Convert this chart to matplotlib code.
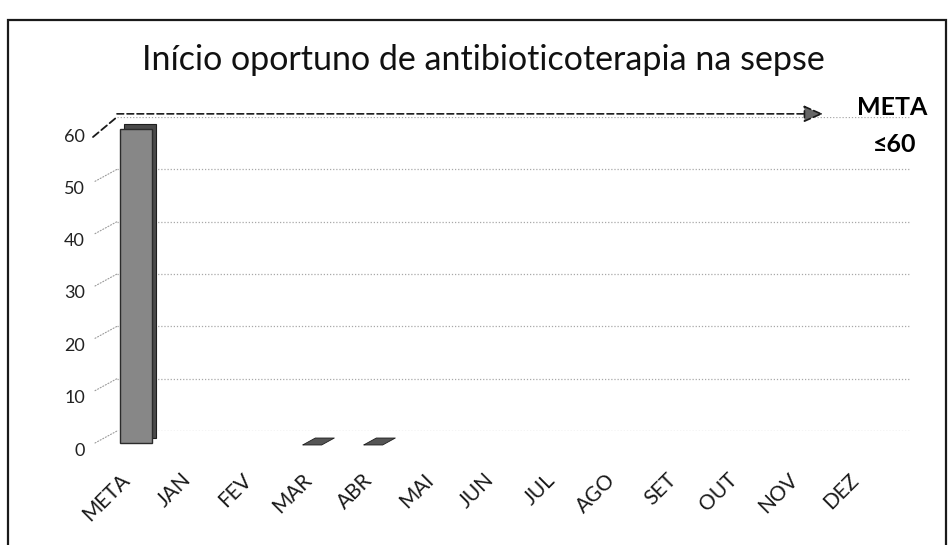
import numpy as np
import matplotlib
matplotlib.use("Agg")
import matplotlib.pyplot as plt
from matplotlib.transforms import ScaledTranslation, blended_transform_factory
from matplotlib.patches import Rectangle
from matplotlib.path import Path

plt.rcParams['font.family'] = ['Lato', 'DejaVu Sans']

# data
categorias = ['META', 'JAN', 'FEV', 'MAR', 'ABR', 'MAI', 'JUN',
              'JUL', 'AGO', 'SET', 'OUT', 'NOV', 'DEZ']
valores = [60, np.nan, np.nan, 0, 0, np.nan, np.nan,
           np.nan, np.nan, np.nan, np.nan, np.nan, np.nan]
y_ticks = [0, 10, 20, 30, 40, 50, 60]
meta = 60
titulo = 'Início oportuno de antibioticoterapia na sepse'

W, H = 948, 545
fig = plt.figure(figsize=(W / 100, H / 100), dpi=100)
fig.patch.set_facecolor('white')

# axes placed so the back wall runs 117..910 px and 0..60 -> 431..117 px
ax = fig.add_axes([117 / W, (H - 431) / H, (910 - 117) / W, 314 / H])
ax.set_xlim(-0.313, 12.75)
ax.set_ylim(0, 60)
for s in ax.spines.values():
    s.set_visible(False)

x = np.arange(len(categorias))
vals = np.array(valores, dtype=float)

# gridlines on the back wall
for v in y_ticks:
    ax.axhline(v, color='#a8a8a8', lw=0.9, ls=(0, (1, 1.5)), zorder=1)

# front plane is a bit lower than the back wall
front = ax.transData + ScaledTranslation(0, -0.12, fig.dpi_scale_trans)
depth = front + ScaledTranslation(0.04, 0.05, fig.dpi_scale_trans)

# META bar (a darker copy behind gives the 3D depth)
ax.bar(x[0], vals[0], width=0.53, color='#4a4a4a', edgecolor='#1e1e1e',
       lw=0.8, transform=depth, zorder=2, clip_on=False)
ax.bar(x[0], vals[0], width=0.53, color='#878787', edgecolor='#2b2b2b',
       lw=1.0, transform=front, zorder=3, clip_on=False)

# months with a 0 value show as a flat slab
slab = Path([(-0.5, -0.11), (0.1, -0.11), (0.5, 0.11), (-0.1, 0.11), (-0.5, -0.11)])
mask = (~np.isnan(vals)) & (x > 0)
ax.scatter(x[mask], vals[mask], marker=slab, s=520, color='#555555',
           edgecolor='#1e1e1e', lw=0.6, transform=front + ScaledTranslation(0, 0.02, fig.dpi_scale_trans),
           zorder=3, clip_on=False)

# y tick labels (front plane) and the slanted connectors to the wall
ax.set_yticks(y_ticks)
ax.tick_params(axis='y', length=0, pad=23, labelsize=13, labelcolor='#222222')
for lab in ax.get_yticklabels():
    lab.set_transform(lab.get_transform() + ScaledTranslation(0, -0.18, fig.dpi_scale_trans))
bl = blended_transform_factory(ax.transAxes, ax.transData)
for v in y_ticks[:-1]:
    ax.annotate('', xy=(0, v), xycoords=bl, xytext=(-22, -12), textcoords='offset pixels',
                arrowprops=dict(arrowstyle='-', color='#9a9a9a', lw=0.8, ls=':',
                                shrinkA=0, shrinkB=0), annotation_clip=False)

# x tick labels
ax.set_xticks(x)
ax.set_xticklabels(categorias, rotation=45, ha='right', va='center',
                   rotation_mode='anchor', fontsize=15, color='#1a1a1a')
ax.tick_params(axis='x', length=0, pad=33)
for lab in ax.get_xticklabels():
    lab.set_transform(lab.get_transform() + ScaledTranslation(-0.09, 0, fig.dpi_scale_trans))

# dashed target line with arrow
ax.annotate('', xy=(0, meta), xycoords=bl, xytext=(-24, -20), textcoords='offset pixels',
            arrowprops=dict(arrowstyle='-', color='#1a1a1a', lw=1.3, ls=(0, (4, 2)),
                            shrinkA=0, shrinkB=0), annotation_clip=False)
ax.annotate('', xy=(11.32, meta + 0.6), xytext=(-0.313, meta + 0.6),
            arrowprops=dict(arrowstyle='-|>,head_length=0.8,head_width=0.35', mutation_scale=15,
                            color='#1a1a1a', lw=1.2, ls=(0, (4, 2)), shrinkA=0, shrinkB=0,
                            fc='#666666'), annotation_clip=False)
ax.text(12.45, meta + 1.8, 'META', fontsize=18, fontweight='bold', ha='center', va='center')
ax.text(12.5, meta - 5.2, '≤60', fontsize=18, fontweight='bold', ha='center', va='center',
        family=['Lato', 'DejaVu Sans'])

fig.text(483 / W, 1 - 60 / H, titulo, fontsize=24.5, ha='center', va='center', color='#111111')

# chart frame
fig.add_artist(Rectangle((8 / W, -0.01), 938 / W, (H - 20) / H + 0.01, transform=fig.transFigure,
                         fill=False, ec='#1a1a1a', lw=1.6))

fig.savefig('out.png', dpi=100, facecolor='white')
